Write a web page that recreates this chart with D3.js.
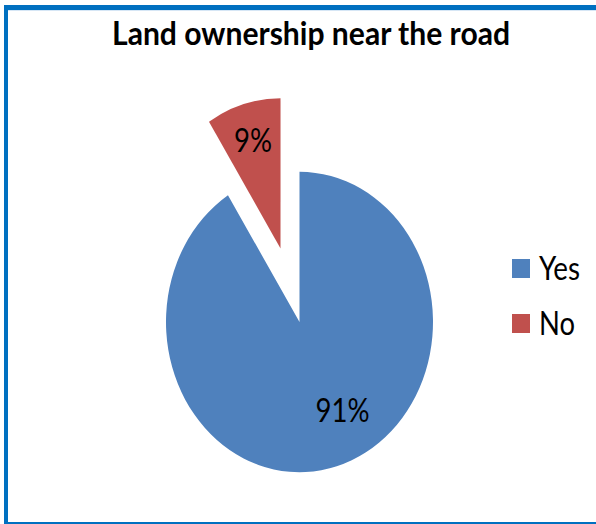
<!DOCTYPE html>
<html><head><meta charset="utf-8">
<script src="https://cdn.jsdelivr.net/npm/d3@7"></script>
<style>html,body{margin:0;padding:0;background:#fff;}svg{display:block;}</style>
</head><body>
<svg id="c" width="596" height="524"></svg>
<script>
const title = "Land ownership near the road";
const categories = ["Yes", "No"];
const values = [91, 9];
const labels = ["91%", "9%"];
const colors = ["#4F81BD", "#C0504D"];

const svg = d3.select("#c");
const W = 596, H = 524, sy = 1.125;
const FONT = "Lato, 'Open Sans', sans-serif";
// frame
svg.append("rect").attr("x",0).attr("y",0).attr("width",W).attr("height",H).attr("fill","#fff");
svg.append("rect").attr("x",4).attr("y",5).attr("width",W-4).attr("height",5).attr("fill","#0070C0");
svg.append("rect").attr("x",4).attr("y",5).attr("width",4).attr("height",H-5).attr("fill","#0070C0");
svg.append("rect").attr("x",4).attr("y",H-2).attr("width",W-4).attr("height",2).attr("fill","#0070C0");
svg.append("rect").attr("x",8).attr("y",10).attr("width",W-8).attr("height",1).attr("fill","#D6E6F5");

function stext(x, y, str, size, len, opts) {
  opts = opts || {};
  return svg.append("text")
    .attr("transform", `translate(${x},${y}) scale(1,${sy})`)
    .attr("text-anchor", opts.anchor || "start")
    .attr("font-family", FONT).attr("font-size", size)
    .attr("font-weight", opts.bold ? "bold" : "normal")
    .attr("textLength", len).attr("lengthAdjust","spacingAndGlyphs")
    .attr("fill","#000").text(str);
}

stext(311, 45, title, 28.5, 398, {anchor:"middle", bold:true});

const cx = 299.5, cy = 322, r = 133.5, explode = 68;
const pie = d3.pie().sort(null).value(d => d)(values);
const arc = d3.arc().innerRadius(0).outerRadius(r);
const g = svg.append("g").attr("transform", `translate(${cx},${cy}) scale(1,${sy})`);
pie.forEach((p, i) => {
  const mid = (p.startAngle + p.endAngle) / 2;
  const off = i === 1 ? explode : 0;
  const ox = Math.sin(mid) * off, oy = -Math.cos(mid) * off;
  g.append("path").attr("d", arc(p)).attr("fill", colors[i])
    .attr("transform", `translate(${ox},${oy})`);
});
// labels
const labelR = [0.62, 0.74];
const nudgeX = [20, 0];
pie.forEach((p, i) => {
  const mid = (p.startAngle + p.endAngle) / 2;
  const off = i === 1 ? explode : 0;
  const d = off + r * labelR[i];
  const x = cx + Math.sin(mid) * d + nudgeX[i];
  const y = cy - Math.cos(mid) * d * sy;
  stext(x, y + 10.5, labels[i], 29, i === 0 ? 54 : 38, {anchor:"middle"});
});
// legend
const ly = d3.scalePoint().domain(categories).range([268.5, 323.5]);
categories.forEach((c, i) => {
  svg.append("rect").attr("x",512).attr("y",ly(c)-9.5).attr("width",18).attr("height",19).attr("fill",colors[i]);
  stext(539, ly(c) + 11.5, c, 29, i === 0 ? 41 : 36);
});
</script>
</body></html>
